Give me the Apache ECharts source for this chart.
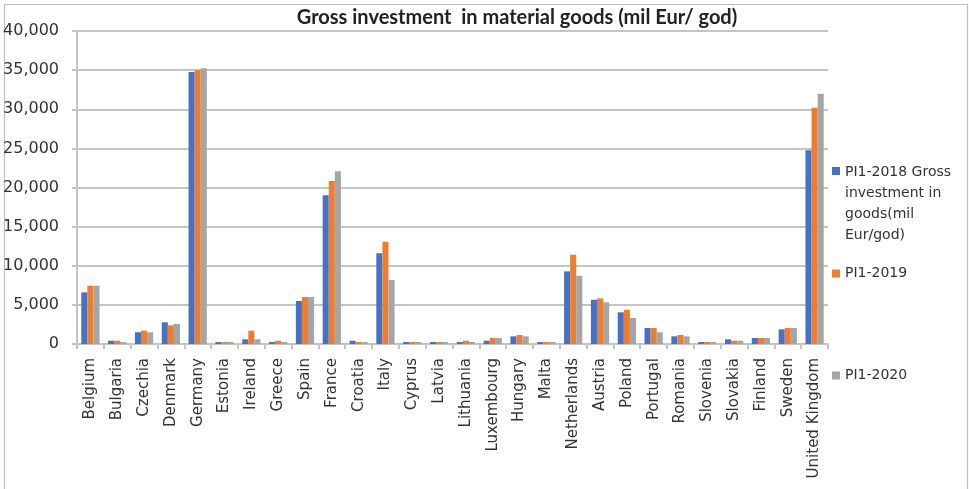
<!DOCTYPE html>
<html>
<head>
<meta charset="utf-8">
<script src="https://cdn.jsdelivr.net/npm/echarts@6/dist/echarts.min.js"></script>
<style>
html,body{margin:0;padding:0;background:#fff;}
#chart{width:969px;height:489px;}
</style>
</head>
<body>
<div id="chart"></div>
<script>
const categories = ['Belgium','Bulgaria','Czechia','Denmark','Germany','Estonia','Ireland','Greece','Spain','France','Croatia','Italy','Cyprus','Latvia','Lithuania','Luxembourg','Hungary','Malta','Netherlands','Austria','Poland','Portugal','Romania','Slovenia','Slovakia','Finland','Sweden','United Kingdom'];
const pi2018 = [6600,420,1500,2770,34750,250,600,250,5500,19000,420,11600,250,250,250,420,980,250,9280,5650,4050,2045,980,250,600,770,1880,24750];
const pi2019 = [7450,420,1700,2390,34980,250,1700,420,6000,20830,250,13070,250,250,420,770,1150,250,11410,5830,4380,2045,1150,250,420,770,2045,30200];
const pi2020 = [7450,250,1500,2560,35230,250,600,250,6000,22070,250,8180,250,250,250,770,980,250,8720,5330,3320,1495,980,250,420,770,2045,31990];
const seriesNames = ['PI1-2018 Gross investment in goods(mil Eur/god)','PI1-2019','PI1-2020'];
const legendLabels = ['PI1-2018 Gross\ninvestment in\ngoods(mil\nEur/god)','PI1-2019','PI1-2020'];
const yTicks = [0,5000,10000,15000,20000,25000,30000,35000,40000];
const titleText = 'Gross investment  in material goods (mil Eur/ god)';

const colors = ['#4472C4','#ED7D31','#A5A5A5'];
const chart = echarts.init(document.getElementById('chart'), null, {renderer:'canvas'});
const values = [pi2018, pi2019, pi2020];

function fmt(v){ return String(v).replace(/\B(?=(\d{3})+(?!\d))/g, ','); }

// first legend: tall icon box with the square drawn at its top so it sits beside the first text line
const legendCfg = [
  {top: 162, itemHeight: 74, icon: 'path://M0,0L8,0L8,8L0,8Z M0,74L8,74Z'},
  {top: 263, itemHeight: 8, icon: 'rect'},
  {top: 365, itemHeight: 8, icon: 'rect'}
];
const legends = seriesNames.map((n, i) => ({
  data: [n],
  orient: 'vertical',
  left: 832,
  top: legendCfg[i].top,
  padding: 0,
  itemWidth: 8,
  itemHeight: legendCfg[i].itemHeight,
  icon: legendCfg[i].icon,
  selectedMode: false,
  formatter: () => legendLabels[i],
  textStyle: {
    fontFamily: 'DejaVu Sans',
    fontSize: 14,
    color: '#333',
    lineHeight: 21
  }
}));

chart.setOption({
  animation: false,
  color: colors,
  title: {
    text: titleText,
    left: 512,
    textAlign: 'center',
    top: 3,
    textStyle: {fontFamily: 'Lato', fontWeight: 'bold', fontSize: 20, color: '#222'}
  },
  legend: legends,
  graphic: [{
    type: 'rect',
    shape: {x: 4.5, y: 4.5, width: 963, height: 500},
    style: {fill: 'none', stroke: '#BDBDBD', lineWidth: 1.2},
    silent: true
  }],
  grid: {left: 77, right: 141, top: 31, bottom: 145, containLabel: false},
  xAxis: {
    type: 'category',
    data: categories,
    axisLine: {show: true, lineStyle: {color: '#C4C4C4', width: 2}},
    axisTick: {show: true, length: 5, lineStyle: {color: '#C4C4C4', width: 2}},
    axisLabel: {
      interval: 0, rotate: 90, margin: 14,
      fontFamily: 'DejaVu Sans', fontSize: 15, color: '#333'
    }
  },
  yAxis: {
    type: 'value',
    min: 0, max: 40000, interval: 5000,
    axisLine: {show: true, lineStyle: {color: '#C4C4C4', width: 2}},
    axisTick: {show: true, length: 5, lineStyle: {color: '#C4C4C4', width: 2}},
    splitLine: {show: true, lineStyle: {color: '#C4C4C4', width: 2}},
    axisLabel: {
      margin: 18,
      fontFamily: 'DejaVu Sans', fontSize: 16, color: '#333',
      formatter: v => fmt(v)
    }
  },
  series: seriesNames.map((n, i) => ({
    name: n,
    type: 'bar',
    data: values[i],
    barGap: '0%',
    barCategoryGap: '32%',
    itemStyle: {color: colors[i]}
  }))
});
</script>
</body>
</html>
